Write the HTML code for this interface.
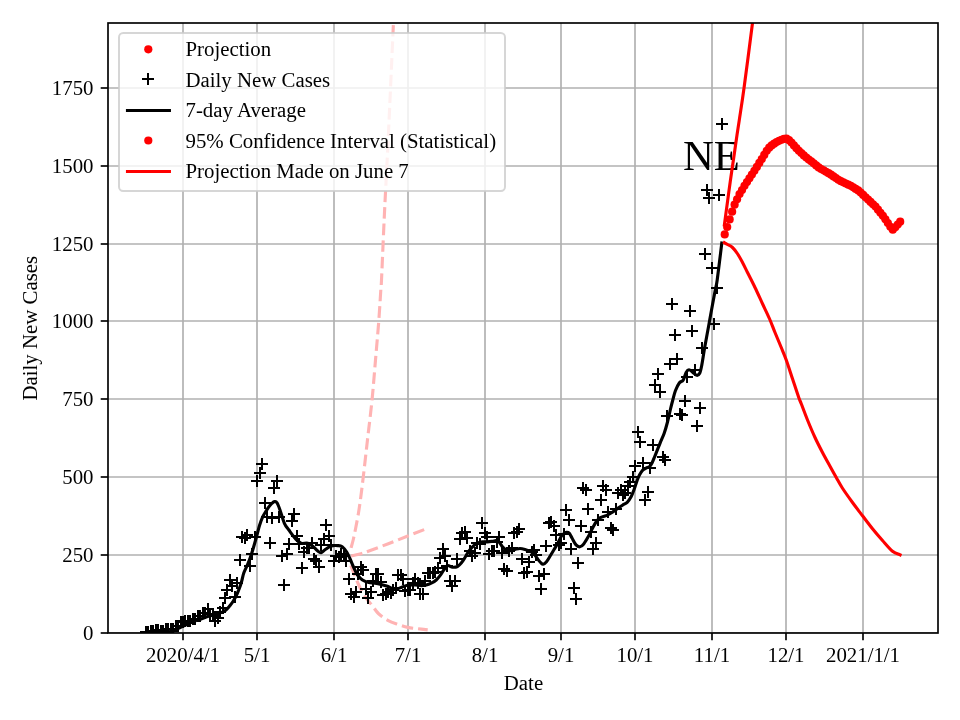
<!DOCTYPE html>
<html lang="en"><head><meta charset="utf-8"><title>NE Daily New Cases</title>
<style>html,body{margin:0;padding:0;background:#fff;}body{width:960px;height:720px;overflow:hidden;}svg{display:block;will-change:transform;}text{font-family:"Liberation Serif", "DejaVu Serif", serif;font-size:20.83px;fill:#000;}</style></head><body>
<svg width="960" height="720" viewBox="0 0 960 720">
<rect width="960" height="720" fill="#fff"/>
<defs><clipPath id="ax"><rect x="108.0" y="23.0" width="830.0" height="610.0"/></clipPath></defs>
<g stroke="#b0b0b0" stroke-width="1.67" fill="none" clip-path="url(#ax)">
<path d="M183,633.0 V23.0"/>
<path d="M257,633.0 V23.0"/>
<path d="M334,633.0 V23.0"/>
<path d="M408,633.0 V23.0"/>
<path d="M485,633.0 V23.0"/>
<path d="M561,633.0 V23.0"/>
<path d="M635,633.0 V23.0"/>
<path d="M712,633.0 V23.0"/>
<path d="M786,633.0 V23.0"/>
<path d="M863,633.0 V23.0"/>
<path d="M108.0,633 H938.0"/>
<path d="M108.0,555 H938.0"/>
<path d="M108.0,477 H938.0"/>
<path d="M108.0,399 H938.0"/>
<path d="M108.0,321 H938.0"/>
<path d="M108.0,244 H938.0"/>
<path d="M108.0,166 H938.0"/>
<path d="M108.0,88 H938.0"/>
</g>
<text transform="translate(711.5,169.8) scale(1.035,1)" text-anchor="middle" style="font-size:41.2px">NE</text>
<g clip-path="url(#ax)">
<g stroke="#ffb3b3" stroke-width="3.125" fill="none" stroke-dasharray="11.56 5" stroke-linecap="butt" stroke-linejoin="round">
<path d="M351.06,547.80C351.43,546.42 352.53,542.80 353.30,539.50C354.07,536.20 354.85,532.35 355.70,528.00C356.55,523.65 357.62,518.07 358.40,513.40C359.18,508.73 359.58,506.13 360.40,500.00C361.22,493.87 362.08,486.93 363.30,476.60C364.52,466.27 366.23,450.88 367.70,438.00C369.17,425.12 370.80,412.30 372.10,399.30C373.40,386.30 374.38,373.12 375.50,360.00C376.62,346.88 377.92,332.27 378.80,320.60C379.68,308.93 380.35,296.77 380.80,290.00C381.25,283.23 380.90,292.58 381.50,280.00C382.10,267.42 383.27,238.38 384.40,214.50C385.53,190.62 386.80,168.47 388.30,136.70C389.80,104.93 392.45,45.02 393.40,23.90C394.35,2.78 393.90,12.32 394.00,10.00"/>
<path d="M351.06,556.10C353.02,555.60 359.83,553.95 362.80,553.10C365.77,552.25 364.65,552.56 368.90,551.00C373.15,549.44 381.82,546.25 388.30,543.75C394.78,541.25 401.80,538.36 407.80,536.00C413.80,533.64 420.98,530.90 424.30,529.60C427.62,528.30 427.13,528.43 427.70,528.20"/>
<path d="M350.70,565.30C351.08,566.25 352.23,569.08 353.00,571.00C353.77,572.92 354.38,574.55 355.30,576.80C356.22,579.05 357.43,582.13 358.50,584.50C359.57,586.87 360.73,589.20 361.70,591.00C362.67,592.80 363.10,593.50 364.30,595.30C365.50,597.10 367.67,600.22 368.90,601.80C370.13,603.38 370.08,602.81 371.70,604.80C373.32,606.79 375.83,611.12 378.60,613.75C381.37,616.38 385.07,618.83 388.30,620.60C391.53,622.38 394.75,623.27 398.00,624.40C401.25,625.53 404.55,626.68 407.80,627.40C411.05,628.12 414.18,628.28 417.50,628.70C420.82,629.12 426.00,629.70 427.70,629.90"/>
</g>
<path d="M140,632h12M146,626v12M142,632h12M148,626v12M145,631h12M151,625v12M147,631h12M153,625v12M150,630h12M156,624v12M152,630h12M158,624v12M155,631h12M161,625v12M157,631h12M163,625v12M160,629h12M166,623v12M162,629h12M168,623v12M165,629h12M171,623v12M167,629h12M173,623v12M170,626h12M176,620v12M172,626h12M178,620v12M175,622h12M181,616v12M177,622h12M183,616v12M179,621h12M185,615v12M182,621h12M188,615v12M184,621h12M190,615v12M187,619h12M193,613v12M189,619h12M195,613v12M192,616h12M198,610v12M194,616h12M200,610v12M197,613h12M203,607v12M199,613h12M205,607v12M202,609h12M208,603v12M204,614h12M210,608v12M207,616h12M213,610v12M209,621h12M215,615v12M212,618h12M218,612v12M214,612h12M220,606v12M217,608h12M223,602v12M219,598h12M225,592v12M221,590h12M227,584v12M224,580h12M230,574v12M226,586h12M232,580v12M229,597h12M235,591v12M231,583h12M237,577v12M234,560h12M240,554v12M236,537h12M242,531v12M239,538h12M245,532v12M241,535h12M247,529v12M244,566h12M250,560v12M246,554h12M252,548v12M249,537h12M255,531v12M251,481h12M257,475v12M254,473h12M260,467v12M256,464h12M262,458v12M259,503h12M265,497v12M261,517h12M267,511v12M264,543h12M270,537v12M266,518h12M272,512v12M268,488h12M274,482v12M271,481h12M277,475v12M273,517h12M279,511v12M276,556h12M282,550v12M278,585h12M284,579v12M281,554h12M287,548v12M283,544h12M289,538v12M286,521h12M292,515v12M288,514h12M294,508v12M291,536h12M297,530v12M293,544h12M299,538v12M296,568h12M302,562v12M298,552h12M304,546v12M301,548h12M307,542v12M303,548h12M309,542v12M306,543h12M312,537v12M308,559h12M314,553v12M310,561h12M316,555v12M313,567h12M319,561v12M315,545h12M321,539v12M318,539h12M324,533v12M320,525h12M326,519v12M323,536h12M329,530v12M325,545h12M331,539v12M328,561h12M334,555v12M330,556h12M336,550v12M333,557h12M339,551v12M335,554h12M341,548v12M338,556h12M344,550v12M340,561h12M346,555v12M343,579h12M349,573v12M345,594h12M351,588v12M348,597h12M354,591v12M350,592h12M356,586v12M352,574h12M358,568v12M355,567h12M361,561v12M357,570h12M363,564v12M360,589h12M366,583v12M362,598h12M368,592v12M365,592h12M371,586v12M367,581h12M373,575v12M370,574h12M376,568v12M372,574h12M378,568v12M375,582h12M381,576v12M377,595h12M383,589v12M380,594h12M386,588v12M382,592h12M388,586v12M385,593h12M391,587v12M387,590h12M393,584v12M390,588h12M396,582v12M392,575h12M398,569v12M395,575h12M401,569v12M397,579h12M403,573v12M399,591h12M405,585v12M402,590h12M408,584v12M404,590h12M410,584v12M407,583h12M413,577v12M409,579h12M415,573v12M412,583h12M418,577v12M414,594h12M420,588v12M417,594h12M423,588v12M419,581h12M425,575v12M422,573h12M428,567v12M424,573h12M430,567v12M427,573h12M433,567v12M429,572h12M435,566v12M432,568h12M438,562v12M434,558h12M440,552v12M437,549h12M443,543v12M439,556h12M445,550v12M441,566h12M447,560v12M444,581h12M450,575v12M446,586h12M452,580v12M449,581h12M455,575v12M451,559h12M457,553v12M454,539h12M460,533v12M456,533h12M462,527v12M459,532h12M465,526v12M461,538h12M467,532v12M464,551h12M470,545v12M466,556h12M472,550v12M469,553h12M475,547v12M471,543h12M477,537v12M474,544h12M480,538v12M476,523h12M482,517v12M479,533h12M485,527v12M481,537h12M487,531v12M483,554h12M489,548v12M486,551h12M492,545v12M488,551h12M494,545v12M491,542h12M497,536v12M493,537h12M499,531v12M496,553h12M502,547v12M498,569h12M504,563v12M501,571h12M507,565v12M503,551h12M509,545v12M506,548h12M512,542v12M508,533h12M514,527v12M511,532h12M517,526v12M513,529h12M519,523v12M516,559h12M522,553v12M518,573h12M524,567v12M521,572h12M527,566v12M523,562h12M529,556v12M526,552h12M532,546v12M528,550h12M534,544v12M530,555h12M536,549v12M533,576h12M539,570v12M535,589h12M541,583v12M538,574h12M544,568v12M540,546h12M546,540v12M543,523h12M549,517v12M545,522h12M551,516v12M548,526h12M554,520v12M550,535h12M556,529v12M553,545h12M559,539v12M555,543h12M561,537v12M558,534h12M564,528v12M560,510h12M566,504v12M563,520h12M569,514v12M565,549h12M571,543v12M568,588h12M574,582v12M570,599h12M576,593v12M572,563h12M578,557v12M575,526h12M581,520v12M577,488h12M583,482v12M580,490h12M586,484v12M582,509h12M588,503v12M585,532h12M591,526v12M587,549h12M593,543v12M590,543h12M596,537v12M592,520h12M598,514v12M595,500h12M601,494v12M597,486h12M603,480v12M600,490h12M606,484v12M602,512h12M608,506v12M605,528h12M611,522v12M607,530h12M613,524v12M610,509h12M616,503v12M612,493h12M618,487v12M615,490h12M621,484v12M617,495h12M623,489v12M619,493h12M625,487v12M622,486h12M628,480v12M624,482h12M630,476v12M627,477h12M633,471v12M629,466h12M635,460v12M632,432h12M638,426v12M634,442h12M640,436v12M637,463h12M643,457v12M639,500h12M645,494v12M642,492h12M648,486v12M644,468h12M650,462v12M647,445h12M653,439v12M649,385h12M655,379v12M652,374h12M658,368v12M654,392h12M660,386v12M657,457h12M663,451v12M659,460h12M665,454v12M661,416h12M667,410v12M664,364h12M670,358v12M666,304h12M672,298v12M669,335h12M675,329v12M671,359h12M677,353v12M674,414h12M680,408v12M676,415h12M682,409v12M679,401h12M685,395v12M681,377h12M687,371v12M684,311h12M690,305v12M686,331h12M692,325v12M689,370h12M695,364v12M691,426h12M697,420v12M694,408h12M700,402v12M696,348h12M702,342v12M699,254h12M705,248v12M701,190h12M707,184v12M703,198h12M709,192v12M706,268h12M712,262v12M708,324h12M714,318v12M711,288h12M717,282v12M713,195h12M719,189v12M716,124h12M722,118v12" stroke="#000" stroke-width="2" fill="none" shape-rendering="crispEdges"/>
<path d="M145.90,632.60C148.25,632.55 156.32,632.43 160.00,632.30C163.68,632.17 166.00,631.98 168.00,631.80C170.00,631.62 170.83,631.47 172.00,631.20C173.17,630.93 173.83,630.70 175.00,630.20C176.17,629.70 177.62,628.90 179.00,628.20C180.38,627.50 181.72,626.75 183.30,626.00C184.88,625.25 186.55,624.53 188.50,623.70C190.45,622.87 192.92,621.78 195.00,621.00C197.08,620.22 198.75,619.78 201.00,619.00C203.25,618.22 206.21,617.07 208.50,616.30C210.79,615.53 212.67,615.02 214.75,614.40C216.83,613.78 219.22,613.25 221.00,612.60C222.78,611.95 223.94,611.63 225.40,610.50C226.86,609.37 228.40,607.42 229.75,605.80C231.10,604.18 232.25,602.85 233.50,600.80C234.75,598.75 236.10,596.05 237.25,593.50C238.40,590.95 239.61,587.75 240.40,585.50C241.19,583.25 241.45,582.03 242.00,580.00C242.55,577.97 242.87,575.67 243.70,573.30C244.53,570.93 245.90,568.43 247.00,565.80C248.10,563.17 249.18,560.68 250.30,557.50C251.42,554.32 252.58,550.45 253.70,546.70C254.82,542.95 256.03,538.53 257.00,535.00C257.97,531.47 258.53,528.55 259.50,525.50C260.47,522.45 261.68,519.15 262.80,516.70C263.92,514.25 264.95,512.75 266.20,510.80C267.45,508.85 269.17,506.40 270.30,505.00C271.43,503.60 272.25,502.97 273.00,502.40C273.75,501.83 274.13,501.53 274.80,501.60C275.47,501.67 276.13,501.40 277.00,502.80C277.87,504.20 278.77,506.58 280.00,510.00C281.23,513.42 282.92,519.97 284.40,523.30C285.88,526.63 287.03,527.40 288.90,530.00C290.77,532.60 293.57,536.68 295.60,538.90C297.63,541.12 299.07,542.57 301.10,543.30C303.13,544.03 305.77,542.73 307.80,543.30C309.83,543.87 311.63,545.40 313.30,546.70C314.97,548.00 316.50,550.10 317.80,551.10C319.10,552.10 319.80,553.00 321.10,552.70C322.40,552.40 323.93,550.42 325.60,549.30C327.27,548.18 329.07,546.62 331.10,546.00C333.13,545.38 335.95,545.48 337.80,545.60C339.65,545.72 340.72,545.60 342.20,546.70C343.68,547.80 345.40,550.19 346.70,552.20C348.00,554.21 348.82,556.20 350.00,558.75C351.18,561.30 352.50,564.79 353.75,567.50C355.00,570.21 356.04,572.92 357.50,575.00C358.96,577.08 360.62,578.75 362.50,580.00C364.38,581.25 366.67,581.98 368.75,582.50C370.83,583.02 372.92,582.78 375.00,583.10C377.08,583.42 379.17,583.88 381.25,584.40C383.33,584.92 385.62,585.57 387.50,586.25C389.38,586.93 390.83,588.08 392.50,588.50C394.17,588.92 395.83,589.02 397.50,588.75C399.17,588.48 400.83,587.48 402.50,586.90C404.17,586.32 405.42,585.57 407.50,585.25C409.58,584.93 412.71,584.94 415.00,585.00C417.29,585.06 419.38,585.60 421.25,585.60C423.12,585.60 424.58,585.42 426.25,585.00C427.92,584.58 429.58,583.93 431.25,583.10C432.92,582.27 434.79,581.25 436.25,580.00C437.71,578.75 438.75,577.27 440.00,575.60C441.25,573.93 442.50,571.67 443.75,570.00C445.00,568.33 446.04,566.06 447.50,565.60C448.96,565.14 450.83,567.10 452.50,567.25C454.17,567.40 456.04,567.19 457.50,566.50C458.96,565.81 460.00,564.60 461.25,563.10C462.50,561.60 463.75,559.48 465.00,557.50C466.25,555.52 467.29,553.23 468.75,551.25C470.21,549.27 472.29,546.96 473.75,545.60C475.21,544.24 476.04,543.72 477.50,543.10C478.96,542.48 480.83,542.10 482.50,541.90C484.17,541.70 485.83,542.01 487.50,541.90C489.17,541.79 491.04,541.47 492.50,541.25C493.96,541.03 495.10,540.39 496.25,540.60C497.40,540.81 498.36,541.45 499.40,542.50C500.44,543.55 501.36,545.65 502.50,546.90C503.64,548.15 505.00,549.38 506.25,550.00C507.50,550.62 508.54,550.70 510.00,550.60C511.46,550.50 513.33,549.75 515.00,549.40C516.67,549.05 518.33,548.50 520.00,548.50C521.67,548.50 523.33,548.94 525.00,549.40C526.67,549.86 528.54,550.52 530.00,551.25C531.46,551.98 532.50,552.50 533.75,553.75C535.00,555.00 536.36,557.29 537.50,558.75C538.64,560.21 539.67,561.58 540.60,562.50C541.53,563.42 542.12,564.43 543.10,564.30C544.08,564.17 545.35,563.04 546.50,561.70C547.65,560.36 548.79,558.20 550.00,556.25C551.21,554.30 552.50,552.08 553.75,550.00C555.00,547.92 556.29,546.00 557.50,543.80C558.71,541.60 559.96,538.50 561.00,536.80C562.04,535.10 562.83,534.33 563.75,533.60C564.67,532.87 565.59,532.47 566.50,532.40C567.41,532.33 568.28,532.27 569.20,533.20C570.12,534.13 570.87,536.05 572.00,538.00C573.13,539.95 574.68,543.43 576.00,544.90C577.32,546.37 578.61,546.97 579.90,546.80C581.19,546.63 582.30,545.68 583.75,543.90C585.20,542.12 587.14,538.70 588.60,536.10C590.06,533.50 591.20,530.73 592.50,528.30C593.80,525.87 595.10,523.28 596.40,521.50C597.70,519.72 598.68,518.58 600.30,517.60C601.92,516.62 604.15,516.45 606.10,515.60C608.05,514.75 610.05,513.70 612.00,512.50C613.95,511.30 616.05,509.62 617.80,508.40C619.55,507.18 620.93,506.22 622.50,505.20C624.07,504.18 625.77,503.70 627.20,502.30C628.63,500.90 629.93,498.98 631.10,496.80C632.27,494.62 633.18,491.97 634.20,489.20C635.22,486.43 636.30,482.60 637.20,480.20C638.10,477.80 638.72,476.45 639.60,474.80C640.48,473.15 641.43,471.42 642.50,470.30C643.57,469.18 644.83,468.72 646.00,468.10C647.17,467.48 648.50,467.45 649.50,466.60C650.50,465.75 651.08,464.80 652.00,463.00C652.92,461.20 653.67,459.08 655.00,455.80C656.33,452.52 658.47,447.05 660.00,443.30C661.53,439.55 662.95,436.85 664.20,433.30C665.45,429.75 666.45,426.05 667.50,422.00C668.55,417.95 669.62,412.67 670.50,409.00C671.38,405.33 671.98,403.03 672.80,400.00C673.62,396.97 674.32,393.63 675.40,390.80C676.48,387.97 678.00,384.78 679.30,383.00C680.60,381.22 682.07,381.87 683.20,380.10C684.33,378.33 685.13,374.12 686.10,372.40C687.07,370.68 687.87,369.80 689.00,369.80C690.13,369.80 691.60,371.48 692.90,372.40C694.20,373.32 695.67,375.15 696.80,375.30C697.93,375.45 698.88,374.92 699.70,373.30C700.52,371.68 700.88,369.80 701.70,365.60C702.52,361.40 703.47,354.58 704.60,348.10C705.73,341.62 707.20,333.83 708.50,326.70C709.80,319.57 711.27,311.47 712.40,305.30C713.53,299.13 714.50,293.92 715.30,289.70C716.10,285.48 716.12,287.78 717.20,280.00C718.28,272.22 721.03,249.17 721.80,243.00" stroke="#000" stroke-width="3.125" fill="none" stroke-linejoin="round" stroke-linecap="square"/>
<path d="M724.37,225.00C724.81,221.75 726.03,212.67 727.00,205.50C727.97,198.33 729.13,189.58 730.20,182.00C731.27,174.42 732.27,167.83 733.40,160.00C734.53,152.17 736.02,141.67 737.00,135.00C737.98,128.33 738.12,127.92 739.30,120.00C740.48,112.08 741.90,103.67 744.10,87.50C746.30,71.33 750.92,35.25 752.50,23.00C754.08,10.75 753.42,15.50 753.60,14.00" stroke="#ff0000" stroke-width="3.125" fill="none" stroke-linejoin="round" stroke-linecap="square"/>
<path d="M724.37,242.70C724.89,243.00 726.14,243.70 727.50,244.50C728.86,245.30 730.83,245.96 732.50,247.50C734.17,249.04 735.83,251.25 737.50,253.75C739.17,256.25 740.83,259.38 742.50,262.50C744.17,265.62 745.42,268.33 747.50,272.50C749.58,276.67 752.50,282.29 755.00,287.50C757.50,292.71 760.08,298.54 762.50,303.75C764.92,308.96 767.42,313.96 769.50,318.75C771.58,323.54 773.04,327.71 775.00,332.50C776.96,337.29 779.38,342.92 781.25,347.50C783.12,352.08 784.38,354.79 786.25,360.00C788.12,365.21 790.42,372.50 792.50,378.75C794.58,385.00 797.29,393.33 798.75,397.50C800.21,401.67 799.79,400.00 801.25,403.75C802.71,407.50 805.21,414.38 807.50,420.00C809.79,425.62 812.50,432.08 815.00,437.50C817.50,442.92 820.00,447.71 822.50,452.50C825.00,457.29 827.71,462.08 830.00,466.25C832.29,470.42 834.17,473.83 836.25,477.50C838.33,481.17 839.79,484.08 842.50,488.25C845.21,492.42 849.17,497.92 852.50,502.50C855.83,507.08 859.17,511.38 862.50,515.75C865.83,520.12 869.17,524.62 872.50,528.75C875.83,532.88 879.17,536.75 882.50,540.50C885.83,544.25 889.57,548.87 892.50,551.25C895.43,553.63 898.83,554.21 900.10,554.80" stroke="#ff0000" stroke-width="3.125" fill="none" stroke-linejoin="round" stroke-linecap="square"/>
<g fill="#ff0000">
<circle cx="724.72" cy="234.40" r="4.1"/>
<circle cx="727.19" cy="227.00" r="4.1"/>
<circle cx="729.66" cy="219.39" r="4.1"/>
<circle cx="732.13" cy="211.69" r="4.1"/>
<circle cx="734.60" cy="204.70" r="4.1"/>
<circle cx="737.08" cy="199.25" r="4.1"/>
<circle cx="739.55" cy="194.11" r="4.1"/>
<circle cx="742.02" cy="190.00" r="4.1"/>
<circle cx="744.49" cy="185.86" r="4.1"/>
<circle cx="746.96" cy="182.04" r="4.1"/>
<circle cx="749.43" cy="178.32" r="4.1"/>
<circle cx="751.91" cy="174.60" r="4.1"/>
<circle cx="754.38" cy="170.79" r="4.1"/>
<circle cx="756.85" cy="166.88" r="4.1"/>
<circle cx="759.32" cy="162.97" r="4.1"/>
<circle cx="761.79" cy="159.04" r="4.1"/>
<circle cx="764.26" cy="154.89" r="4.1"/>
<circle cx="766.74" cy="150.75" r="4.1"/>
<circle cx="769.21" cy="147.68" r="4.1"/>
<circle cx="771.68" cy="145.46" r="4.1"/>
<circle cx="774.15" cy="143.63" r="4.1"/>
<circle cx="776.62" cy="142.12" r="4.1"/>
<circle cx="779.10" cy="140.79" r="4.1"/>
<circle cx="781.57" cy="139.76" r="4.1"/>
<circle cx="784.04" cy="138.91" r="4.1"/>
<circle cx="786.51" cy="138.72" r="4.1"/>
<circle cx="788.98" cy="140.19" r="4.1"/>
<circle cx="791.45" cy="142.52" r="4.1"/>
<circle cx="793.93" cy="145.43" r="4.1"/>
<circle cx="796.40" cy="148.18" r="4.1"/>
<circle cx="798.87" cy="150.75" r="4.1"/>
<circle cx="801.34" cy="153.12" r="4.1"/>
<circle cx="803.81" cy="155.43" r="4.1"/>
<circle cx="806.29" cy="157.52" r="4.1"/>
<circle cx="808.76" cy="159.61" r="4.1"/>
<circle cx="811.23" cy="161.36" r="4.1"/>
<circle cx="813.70" cy="163.35" r="4.1"/>
<circle cx="816.17" cy="165.40" r="4.1"/>
<circle cx="818.64" cy="167.44" r="4.1"/>
<circle cx="821.12" cy="168.98" r="4.1"/>
<circle cx="823.59" cy="170.37" r="4.1"/>
<circle cx="826.06" cy="171.76" r="4.1"/>
<circle cx="828.53" cy="173.15" r="4.1"/>
<circle cx="831.00" cy="174.70" r="4.1"/>
<circle cx="833.48" cy="176.38" r="4.1"/>
<circle cx="835.95" cy="178.05" r="4.1"/>
<circle cx="838.42" cy="179.73" r="4.1"/>
<circle cx="840.89" cy="181.21" r="4.1"/>
<circle cx="843.36" cy="182.35" r="4.1"/>
<circle cx="845.83" cy="183.49" r="4.1"/>
<circle cx="848.31" cy="184.63" r="4.1"/>
<circle cx="850.78" cy="185.84" r="4.1"/>
<circle cx="853.25" cy="187.37" r="4.1"/>
<circle cx="855.72" cy="188.91" r="4.1"/>
<circle cx="858.19" cy="190.45" r="4.1"/>
<circle cx="860.67" cy="192.61" r="4.1"/>
<circle cx="863.14" cy="194.94" r="4.1"/>
<circle cx="865.61" cy="197.27" r="4.1"/>
<circle cx="868.08" cy="199.60" r="4.1"/>
<circle cx="870.55" cy="201.93" r="4.1"/>
<circle cx="873.02" cy="204.26" r="4.1"/>
<circle cx="875.50" cy="206.62" r="4.1"/>
<circle cx="877.97" cy="209.70" r="4.1"/>
<circle cx="880.44" cy="212.78" r="4.1"/>
<circle cx="882.91" cy="215.86" r="4.1"/>
<circle cx="885.38" cy="219.35" r="4.1"/>
<circle cx="887.85" cy="223.05" r="4.1"/>
<circle cx="890.33" cy="226.75" r="4.1"/>
<circle cx="892.80" cy="229.70" r="4.1"/>
<circle cx="895.27" cy="227.23" r="4.1"/>
<circle cx="897.74" cy="224.49" r="4.1"/>
<circle cx="900.21" cy="221.70" r="4.1"/>
</g>
</g>
<rect x="108.0" y="23.0" width="830.0" height="610.0" fill="none" stroke="#000" stroke-width="1.67" stroke-linejoin="miter"/>
<g stroke="#000" stroke-width="1.67">
<path d="M183,633.0 v7.3"/>
<path d="M257,633.0 v7.3"/>
<path d="M334,633.0 v7.3"/>
<path d="M408,633.0 v7.3"/>
<path d="M485,633.0 v7.3"/>
<path d="M561,633.0 v7.3"/>
<path d="M635,633.0 v7.3"/>
<path d="M712,633.0 v7.3"/>
<path d="M786,633.0 v7.3"/>
<path d="M863,633.0 v7.3"/>
<path d="M108.0,633 h-7.3"/>
<path d="M108.0,555 h-7.3"/>
<path d="M108.0,477 h-7.3"/>
<path d="M108.0,399 h-7.3"/>
<path d="M108.0,321 h-7.3"/>
<path d="M108.0,244 h-7.3"/>
<path d="M108.0,166 h-7.3"/>
<path d="M108.0,88 h-7.3"/>
</g>
<text x="183.0" y="662" text-anchor="middle">2020/4/1</text>
<text x="257.0" y="662" text-anchor="middle">5/1</text>
<text x="334.0" y="662" text-anchor="middle">6/1</text>
<text x="408.0" y="662" text-anchor="middle">7/1</text>
<text x="485.0" y="662" text-anchor="middle">8/1</text>
<text x="561.0" y="662" text-anchor="middle">9/1</text>
<text x="635.0" y="662" text-anchor="middle">10/1</text>
<text x="712.0" y="662" text-anchor="middle">11/1</text>
<text x="786.0" y="662" text-anchor="middle">12/1</text>
<text x="863.0" y="662" text-anchor="middle">2021/1/1</text>
<text x="93.5" y="640.4" text-anchor="end">0</text>
<text x="93.5" y="562.4" text-anchor="end">250</text>
<text x="93.5" y="484.4" text-anchor="end">500</text>
<text x="93.5" y="406.4" text-anchor="end">750</text>
<text x="93.5" y="328.4" text-anchor="end">1000</text>
<text x="93.5" y="251.4" text-anchor="end">1250</text>
<text x="93.5" y="173.4" text-anchor="end">1500</text>
<text x="93.5" y="95.4" text-anchor="end">1750</text>
<text x="523.5" y="689.5" text-anchor="middle">Date</text>
<text transform="translate(37.0,328.2) rotate(-90)" text-anchor="middle">Daily New Cases</text>
<rect x="119.0" y="33.0" width="386.0" height="158.0" rx="4.2" ry="4.2" fill="#fff" fill-opacity="0.8" stroke="#cccccc" stroke-opacity="0.8" stroke-width="2"/>
<circle cx="148.3" cy="49.3" r="4.1" fill="#ff0000"/>
<path d="M142,79h12M148,73v12" stroke="#000" stroke-width="2" fill="none" shape-rendering="crispEdges"/>
<path d="M127.5,110.5 H169.4" stroke="#000" stroke-width="3.125" stroke-linecap="square"/>
<circle cx="148.3" cy="140.5" r="4.1" fill="#ff0000"/>
<path d="M127.5,171.5 H169.4" stroke="#ff0000" stroke-width="3.125" stroke-linecap="square"/>
<text x="185.5" y="55.8">Projection</text>
<text x="185.5" y="86.5">Daily New Cases</text>
<text x="185.5" y="117.1">7-day Average</text>
<text x="185.5" y="147.5">95% Confidence Interval (Statistical)</text>
<text x="185.5" y="177.8">Projection Made on June 7</text>
</svg></body></html>
